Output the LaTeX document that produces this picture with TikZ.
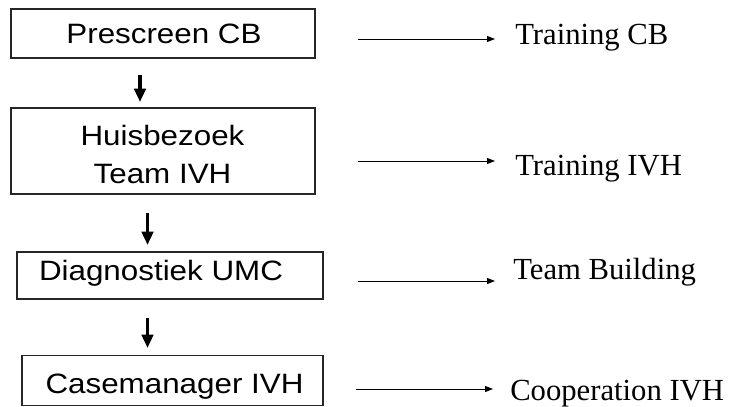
\documentclass[tikz,border=0pt]{standalone}
\usepackage{fontspec}
\setmainfont{Liberation Serif}
\newfontfamily\arialf{Liberation Sans}
\usetikzlibrary{arrows.meta}
\tikzset{
  boxnode/.style={draw=black!85, line width=1.2pt, inner sep=0pt, fill=none},
  boxtext/.style={font=\arialf\fontsize{21}{28.5}\selectfont, inner sep=0pt, anchor=base},
  labeltext/.style={font=\fontsize{23}{27}\selectfont, inner sep=0pt, anchor=base west},
  downarrow/.style={line width=2.6pt, -{Triangle[length=10pt, width=8.5pt]}},
  rightarrow/.style={line width=0.75pt, -{Triangle[length=6pt, width=4.5pt]}},
}
\newcommand{\stretchtext}[1]{\scalebox{1.12}[1]{#1}}
\begin{document}
\begin{tikzpicture}[x=0.75pt, y=-0.75pt]
\useasboundingbox (0,0) rectangle (736,407);
% boxes
\node[boxnode, minimum width=228pt, minimum height=36.75pt] (b1) at (163,33.5) {};
\node[boxnode, minimum width=228pt, minimum height=64.5pt] (b2) at (163,151) {};
\node[boxnode, minimum width=229.5pt, minimum height=35.25pt] (b3) at (170,275.5) {};
\node[boxnode, minimum width=225.75pt, minimum height=37.5pt] (b4) at (172.5,380.5) {};
% box texts
\node[boxtext] (t1) at (164,43) {\stretchtext{Prescreen CB}};
\node[boxtext] (t2) at (162.5,145) {\stretchtext{\setlength\tabcolsep{0pt}\begin{tabular}[t]{c}Huisbezoek\\Team IVH\end{tabular}}};
\node[boxtext] (t3) at (161,280) {\stretchtext{Diagnostiek UMC}};
\node[boxtext] (t4) at (174.5,393) {\stretchtext{Casemanager IVH}};
% labels
\node[labeltext] (l1) at (515,45) {Training CB};
\node[labeltext] (l2) at (515,175) {Training IVH};
\node[labeltext] (l3) at (513,279) {Team Building};
\node[labeltext] (l4) at (510,400) {Cooperation IVH};
% down arrow coordinates
\coordinate (d1s) at (140,75);
\coordinate (d1e) at (140,102);
\coordinate (d2s) at (147.5,213);
\coordinate (d2e) at (147.5,245);
\coordinate (d3s) at (147.5,318);
\coordinate (d3e) at (147.5,348);
\draw[downarrow] (d1s) -- (d1e);
\draw[downarrow] (d2s) -- (d2e);
\draw[downarrow] (d3s) -- (d3e);
% right arrow coordinates
\coordinate (r1s) at (358,39);
\coordinate (r1e) at (495,39);
\coordinate (r2s) at (358,161);
\coordinate (r2e) at (495,161);
\coordinate (r3s) at (358,281);
\coordinate (r3e) at (495,281);
\coordinate (r4s) at (356,389);
\coordinate (r4e) at (493,389);
\draw[rightarrow] (r1s) -- (r1e);
\draw[rightarrow] (r2s) -- (r2e);
\draw[rightarrow] (r3s) -- (r3e);
\draw[rightarrow] (r4s) -- (r4e);
\end{tikzpicture}
\end{document}
